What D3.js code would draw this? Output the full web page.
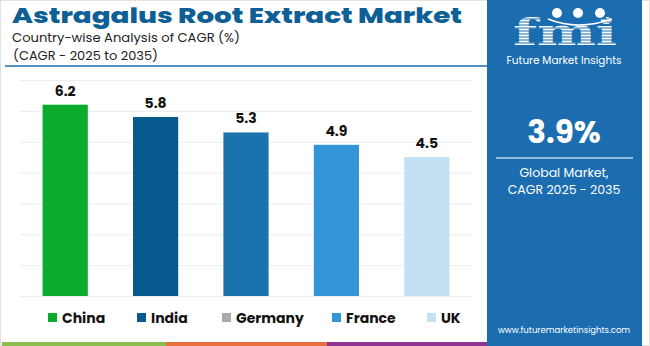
<!DOCTYPE html>
<html>
<head>
<meta charset="utf-8">
<script src="https://cdn.jsdelivr.net/npm/d3@7"></script>
<style>
  html, body { margin: 0; padding: 0; background: #fff; }
  svg { display: block; }
</style>
</head>
<body>
<svg id="chart" width="650" height="346"></svg>
<script>
const categories = ["China", "India", "Germany", "France", "UK"];
const values = [6.2, 5.8, 5.3, 4.9, 4.5];
const barColors = ["#0bab2c", "#075a8e", "#1b73ae", "#3296d6", "#c4e1f4"];
const legendColors = ["#0bab2c", "#075a8e", "#aaaaaa", "#3296d6", "#c4e1f4"];
const yTicks = [0, 1, 2, 3, 4, 5, 6, 7];

const svg = d3.select("#chart");
const W = 650, H = 346;

// outer frame
svg.append("rect").attr("x", 0.5).attr("y", 0.5).attr("width", W - 1).attr("height", H - 1)
  .attr("fill", "#fff").attr("stroke", "#e2e2e2");

// Titles
svg.append("text").attr("x", 12).attr("y", 22.5)
  .attr("font-family", "Poppins, 'Open Sans', sans-serif").attr("font-weight", 800)
  .attr("font-size", 20.5).attr("fill", "#0f5f97")
  .attr("textLength", 450).attr("lengthAdjust", "spacingAndGlyphs")
  .text("Astragalus Root Extract Market");
svg.append("text").attr("x", 12).attr("y", 42)
  .attr("font-family", "Poppins, 'Open Sans', sans-serif").attr("font-size", 13).attr("fill", "#222")
  .attr("textLength", 228).attr("lengthAdjust", "spacingAndGlyphs")
  .text("Country-wise Analysis of CAGR (%)");
svg.append("text").attr("x", 13).attr("y", 60)
  .attr("font-family", "Poppins, 'Open Sans', sans-serif").attr("font-size", 13).attr("fill", "#222")
  .attr("textLength", 145).attr("lengthAdjust", "spacingAndGlyphs")
  .text("(CAGR - 2025 to 2035)");
svg.append("line").attr("x1", 5).attr("x2", 488).attr("y1", 66).attr("y2", 66)
  .attr("stroke", "#1f6ea8").attr("stroke-width", 1.5);

// Scales
const x = d3.scaleBand().domain(categories).range([20, 472]).paddingInner(0.5).paddingOuter(0.25);
const y = d3.scaleLinear().domain([0, 7]).range([296, 80]);

// Gridlines
const grid = svg.append("g").attr("transform", "translate(20,0)")
  .call(d3.axisLeft(y).tickValues(yTicks).tickSize(-452).tickFormat(""));
grid.select(".domain").remove();
grid.selectAll(".tick line").attr("stroke", "#ececec").attr("stroke-width", 1);

// Bars
svg.append("g").selectAll("rect").data(categories).join("rect")
  .attr("x", d => x(d))
  .attr("width", x.bandwidth())
  .attr("y", (d, i) => y(values[i]))
  .attr("height", (d, i) => y(0) - y(values[i]))
  .attr("fill", (d, i) => barColors[i]);

// Value labels
svg.append("g").selectAll("text").data(categories).join("text")
  .attr("x", d => x(d) + x.bandwidth() / 2)
  .attr("y", (d, i) => y(values[i]) - 9)
  .attr("text-anchor", "middle")
  .attr("font-family", "Poppins, 'Open Sans', Arial, sans-serif").attr("font-weight", 700)
  .attr("font-size", 14).attr("fill", "#111")
  .text((d, i) => values[i].toFixed(1));

// Legend
const legendX = [48, 137, 222, 332, 427];
const lg = svg.append("g").selectAll("g").data(categories).join("g")
  .attr("transform", (d, i) => `translate(${legendX[i]},313)`);
lg.append("rect").attr("width", 9).attr("height", 9).attr("fill", (d, i) => legendColors[i]);
lg.append("text").attr("x", 14).attr("y", 9.5)
  .attr("font-family", "Poppins, 'Open Sans', Arial, sans-serif").attr("font-weight", 700)
  .attr("font-size", 14).attr("fill", "#111").text(d => d);

// Bottom strip
const stripColors = ["#8bbd4f", "#e8703f", "#8e3391"];
const stripX = [2, 166, 327, 490];
stripColors.forEach((c, i) => {
  svg.append("rect").attr("x", stripX[i]).attr("y", 342).attr("width", stripX[i + 1] - stripX[i]).attr("height", 4).attr("fill", c);
});

// Right panel
svg.append("rect").attr("x", 487).attr("y", 0).attr("width", 155).attr("height", 346).attr("fill", "#1b6db0");

// Logo
const logo = svg.append("g");
logo.append("text").attr("x", 513).attr("y", 45)
  .attr("font-family", "'DejaVu Serif', serif").attr("font-weight", 700)
  .attr("font-size", 37).attr("fill", "#fff")
  .attr("textLength", 104).attr("lengthAdjust", "spacingAndGlyphs").text("fmi");
for (let yy = 16; yy < 50; yy += 3) {
  logo.append("line").attr("x1", 508).attr("x2", 622).attr("y1", yy).attr("y2", yy)
    .attr("stroke", "#1b6db0").attr("stroke-width", 1);
}
[[557, 13], [578, 13], [600, 13]].forEach(([cx, cy]) => {
  logo.append("rect").attr("x", cx - 6).attr("y", cy - 6).attr("width", 12).attr("height", 12).attr("fill", "#1b6db0");
  logo.append("circle").attr("cx", cx).attr("cy", cy).attr("r", 5).attr("fill", "#fff");
});
logo.append("path").attr("d", "M548 19 Q578 31 612 19").attr("fill", "none").attr("stroke", "#fff").attr("stroke-width", 1.5);
logo.append("text").attr("x", 564).attr("y", 64).attr("text-anchor", "middle")
  .attr("font-family", "Poppins, 'Open Sans', sans-serif").attr("font-size", 10.5).attr("fill", "#fff")
  .text("Future Market Insights");

svg.append("text").attr("x", 564).attr("y", 143).attr("text-anchor", "middle")
  .attr("font-family", "Poppins, 'Open Sans', sans-serif").attr("font-weight", 700)
  .attr("font-size", 31).attr("fill", "#fff").text("3.9%");
svg.append("line").attr("x1", 496).attr("x2", 633).attr("y1", 158).attr("y2", 158)
  .attr("stroke", "#b9d8f0").attr("stroke-width", 1.5);
svg.append("text").attr("x", 564).attr("y", 177).attr("text-anchor", "middle")
  .attr("font-family", "Poppins, 'Open Sans', sans-serif").attr("font-size", 12.5).attr("fill", "#fff")
  .text("Global Market,");
svg.append("text").attr("x", 564).attr("y", 194).attr("text-anchor", "middle")
  .attr("font-family", "Poppins, 'Open Sans', sans-serif").attr("font-size", 12.5).attr("fill", "#fff")
  .text("CAGR 2025 - 2035");
svg.append("text").attr("x", 564).attr("y", 333).attr("text-anchor", "middle")
  .attr("font-family", "Poppins, 'Open Sans', sans-serif").attr("font-size", 8.5).attr("fill", "#fff")
  .text("www.futuremarketinsights.com");
</script>
</body>
</html>
